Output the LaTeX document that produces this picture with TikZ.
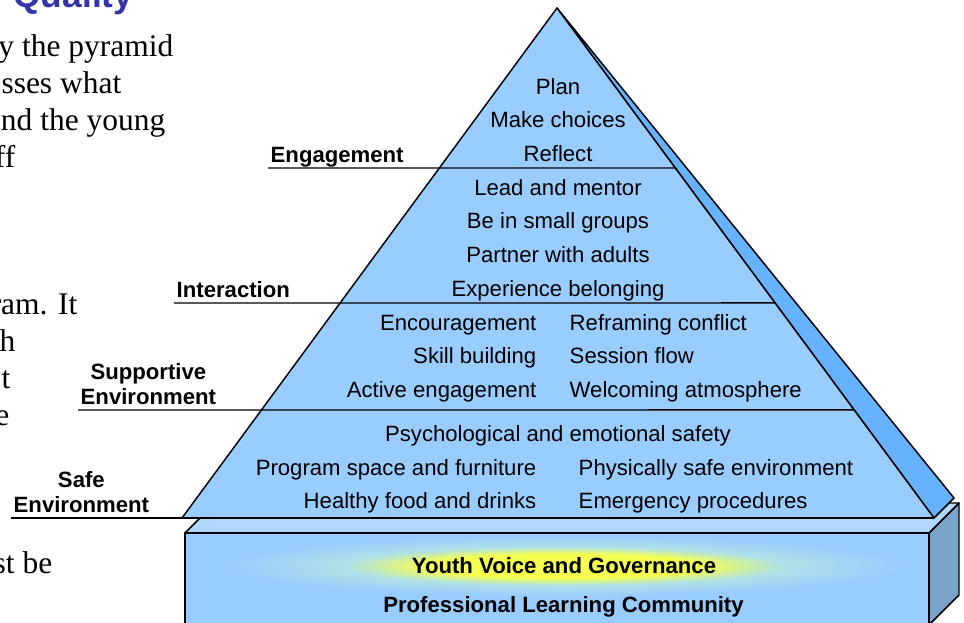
\documentclass[tikz,border=0pt]{standalone}
\usepackage{fontspec}
\setmainfont{Liberation Sans}
\newfontfamily\slideserif{Liberation Serif}
\usetikzlibrary{calc}

\definecolor{layerblue}{RGB}{153,204,255}
\definecolor{edgeblue}{RGB}{102,178,255}
\definecolor{slabtop}{RGB}{176,216,255}
\definecolor{slabside}{RGB}{122,163,204}
\definecolor{glowyellow}{RGB}{245,255,80}
\definecolor{glowhalo}{RGB}{175,225,230}
\definecolor{titleblue}{RGB}{51,51,170}

\pgfdeclareradialshading{youthglow}{\pgfpoint{0bp}{0bp}}{%
  color(0bp)=(glowyellow); color(10bp)=(glowyellow); color(16bp)=(glowhalo);
  color(25bp)=(layerblue); color(50bp)=(layerblue)}

\tikzset{every picture/.style={line width=1.1pt}}
\tikzset{
  rowtext/.style={inner sep=0pt, font=\fontsize{16.6}{20}\selectfont},
  tiertag/.style={anchor=south west, inner xsep=1.5pt, inner ysep=3.75pt, text depth=0pt, align=center, font=\fontsize{16.6}{18.75}\selectfont\bfseries},
  slidetext/.style={anchor=base east, inner sep=0pt, font=\slideserif\fontsize{23.6}{28}\selectfont}
}

\begin{document}
\begin{tikzpicture}[x=0.75pt,y=0.75pt,yscale=-1,xscale=1]
\useasboundingbox (0,0) rectangle (964,623);
\clip (0,0) rectangle (964,623);

%Shape: Slab side
\draw [fill=slabside, line join=round] (929,533) -- (959,503) -- (959,595) -- (929,625) -- cycle ;
%Shape: Slab top
\draw [fill=slabtop, line join=round] (185,533) -- (215,503) -- (959,503) -- (929,533) -- cycle ;
%Shape: Slab front
\draw [fill=layerblue] (185,533) rectangle (929,640) ;
%Shading: glow behind youth voice
\begin{scope}
\clip (186,534) rectangle (928,640);
\shade [shading=youthglow] (564,566) ellipse (340 and 30);
\end{scope}

%Pyramid corners
\coordinate (apex) at (557,8);
\coordinate (bl) at (182,518);
\coordinate (br) at (934,518);
\coordinate (rim) at (954,498);

%Shape: Pyramid edge
\draw [fill=edgeblue, line join=round] (apex) -- (rim) -- (br) -- cycle ;
%Shape: Pyramid face
\draw [fill=layerblue, line join=round] (apex) -- (br) -- (bl) -- cycle ;

%Divider ends on the right edge
\coordinate (d1) at ($(apex)!0.3137!(br)$);
\coordinate (d2) at ($(apex)!0.5784!(br)$);
\coordinate (d3) at ($(apex)!0.7882!(br)$);

% Tier labels
\draw (268,168) node [tiertag] (engL) {Engagement};
\draw (174,303) node [tiertag] (intL) {Interaction};
\draw (78,410) node [tiertag] (supL) {Supportive\\Environment};
\draw (11,518) node [tiertag] (safeL) {Safe\\Environment};

%Straight Lines
\draw (engL.south west) -- (d1) ;
\draw (intL.south west) -- (d2) ;
\draw (supL.south west) -- (d3) ;
\draw (safeL.south west) -- (br) ;

% Text Node
\draw (558,94.5) node [rowtext, anchor=base] (plan) {Plan};
\draw (558,128) node [rowtext, anchor=base] (choose) {Make choices};
\draw (558,161.5) node [rowtext, anchor=base] (reflect) {Reflect};
% Text Node
\draw (558,195.5) node [rowtext, anchor=base] (lead) {Lead and mentor};
\draw (558,229) node [rowtext, anchor=base] (groups) {Be in small groups};
\draw (558,263) node [rowtext, anchor=base] (partner) {Partner with adults};
\draw (558,297) node [rowtext, anchor=base] (belong) {Experience belonging};
% Text Node
\draw (537,330.5) node [rowtext, anchor=base east] (encour) {Encouragement};
\draw (537,364) node [rowtext, anchor=base east] (skill) {Skill building};
\draw (537,397.5) node [rowtext, anchor=base east] (active) {Active engagement};
\draw (569,330.5) node [rowtext, anchor=base west] (reframe) {Reframing conflict};
\draw (569,364) node [rowtext, anchor=base west] (flow) {Session flow};
\draw (569,397.5) node [rowtext, anchor=base west] (welcome) {Welcoming atmosphere};
% Text Node
\draw (558,441) node [rowtext, anchor=base] (psych) {Psychological and emotional safety};
\draw (537,475) node [rowtext, anchor=base east] (space) {Program space and furniture};
\draw (537,508.5) node [rowtext, anchor=base east] (food) {Healthy food and drinks};
\draw (578,475) node [rowtext, anchor=base west] (physical) {Physically safe environment};
\draw (578,508.5) node [rowtext, anchor=base west] (emerg) {Emergency procedures};
% Text Node
\draw (564,573) node [rowtext, anchor=base, font=\fontsize{16.6}{20}\selectfont\bfseries] (youth) {Youth Voice and Governance};
\draw (563.5,612) node [rowtext, anchor=base, font=\fontsize{16.6}{20}\selectfont\bfseries] (plc) {Professional Learning Community};

% Slide text cut by the frame
\draw (134,8) node [anchor=base east, inner sep=0pt, text=titleblue, font=\fontsize{26.5}{30}\selectfont\bfseries] (title) {Quality};
\draw (174,57) node [slidetext] (s1) {y the pyramid};
\draw (122,94) node [slidetext] (s2) {sses what};
\draw (166,131) node [slidetext] (s3) {nd the young};
\draw (16,168) node [slidetext] (s4) {ff};
\draw (78,315) node [slidetext] (s5) {ram. It};
\draw (16,352) node [slidetext] (s6) {h};
\draw (11,389) node [slidetext] (s7) {t};
\draw (10,426) node [slidetext] (s8) {e};
\draw (53,573) node [slidetext] (s9) {st be};

\end{tikzpicture}
\end{document}
